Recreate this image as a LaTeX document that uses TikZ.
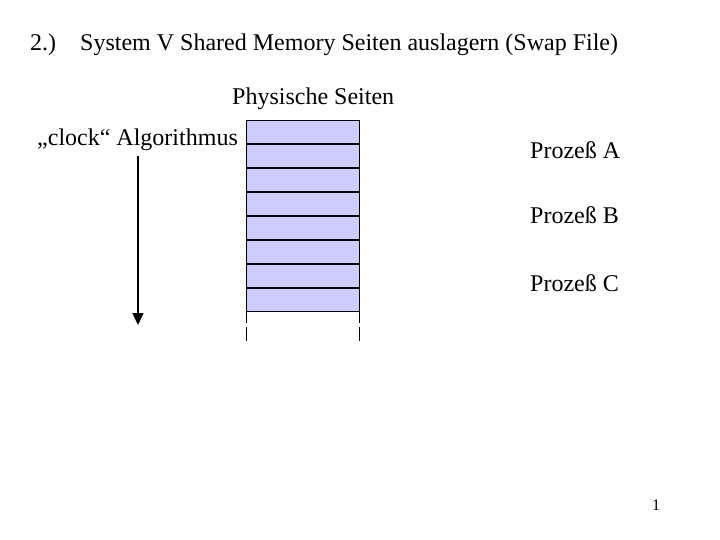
\documentclass[tikz,border=0pt]{standalone}
\usepackage{fontspec}
\setmainfont{Liberation Serif}
\usetikzlibrary{arrows.meta}
\definecolor{pagefill}{RGB}{204,204,255}
\tikzset{
  lbl/.style={anchor=base west, inner sep=0pt, font=\fontsize{24}{28}\selectfont},
  sep/.style={line width=2pt, black},
}
\begin{document}
\begin{tikzpicture}[x=1pt,y=-1pt]
\useasboundingbox (0,0) rectangle (720,540);
\node[lbl] (num) at (30,51) {2.)};
\node[lbl] (title) at (80,51) {System V Shared Memory Seiten auslagern (Swap File)};
\node[lbl] (phys) at (232,105) {Physische Seiten};
\node[lbl] (clock) at (37,146) {„clock“ Algorithmus};
\node[lbl] (pa) at (530,159) {Prozeß A};
\node[lbl] (pb) at (530,223) {Prozeß B};
\node[lbl] (pc) at (530,291) {Prozeß C};
\node[anchor=base west, inner sep=0pt, font=\fontsize{16}{18}\selectfont] (pg) at (652,510) {1};
% pages block
\fill[pagefill] (246,120) rectangle (359.5,311);
\draw[line width=0.8pt] (246,120) rectangle (359.5,311);
\foreach \y in {143.7,167.7,191.7,215.7,239.7,263.7,287.7}
  \draw[sep] (246,\y) -- (359.5,\y);
\draw[line width=0.8pt] (246,311) -- (246,323) (246,327) -- (246,341);
\draw[line width=0.8pt] (359.5,311) -- (359.5,323) (359.5,327) -- (359.5,341);
% clock arrow
\coordinate (cs) at (138,156);
\coordinate (ce) at (138,325);
\draw[line width=1.6pt, -{Triangle[length=12pt,width=11pt]}] (cs) -- (ce);
\end{tikzpicture}
\end{document}
